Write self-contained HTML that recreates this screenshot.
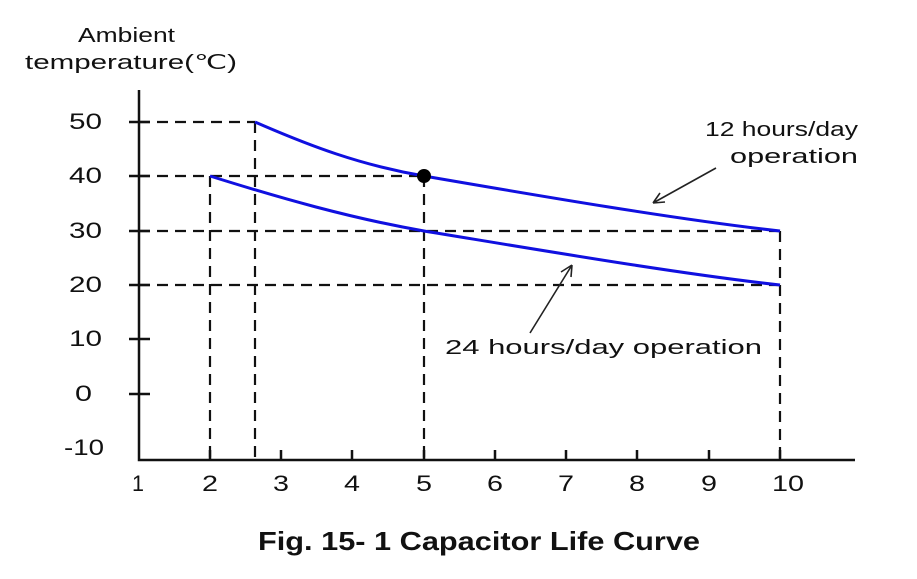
<!DOCTYPE html>
<html><head><meta charset="utf-8"><style>
html,body{margin:0;padding:0;background:#fff;}
svg{display:block;}
text{font-family:"Liberation Sans",Arial,sans-serif;fill:#111;}
</style></head><body>
<svg width="917" height="579" viewBox="0 0 917 579" xmlns="http://www.w3.org/2000/svg">
<g font-size="22">
<text x="69" y="129" textLength="33" lengthAdjust="spacingAndGlyphs">50</text>
<text x="69" y="183" textLength="33" lengthAdjust="spacingAndGlyphs">40</text>
<text x="69" y="238" textLength="33" lengthAdjust="spacingAndGlyphs">30</text>
<text x="69" y="292" textLength="33" lengthAdjust="spacingAndGlyphs">20</text>
<text x="69" y="346" textLength="33" lengthAdjust="spacingAndGlyphs">10</text>
<text x="75" y="401" textLength="17" lengthAdjust="spacingAndGlyphs">0</text>
<text x="64" y="455" textLength="40" lengthAdjust="spacingAndGlyphs">-10</text>
</g>
<g font-size="22">
<text x="132" y="491" textLength="12" lengthAdjust="spacingAndGlyphs">1</text>
<text x="202" y="491" textLength="16" lengthAdjust="spacingAndGlyphs">2</text>
<text x="273" y="491" textLength="16" lengthAdjust="spacingAndGlyphs">3</text>
<text x="344" y="491" textLength="16" lengthAdjust="spacingAndGlyphs">4</text>
<text x="416" y="491" textLength="16" lengthAdjust="spacingAndGlyphs">5</text>
<text x="487" y="491" textLength="16" lengthAdjust="spacingAndGlyphs">6</text>
<text x="558" y="491" textLength="16" lengthAdjust="spacingAndGlyphs">7</text>
<text x="629" y="491" textLength="16" lengthAdjust="spacingAndGlyphs">8</text>
<text x="701" y="491" textLength="16" lengthAdjust="spacingAndGlyphs">9</text>
<text x="772" y="491" textLength="32" lengthAdjust="spacingAndGlyphs">10</text>
</g>
<text x="78" y="42" font-size="20" textLength="97" lengthAdjust="spacingAndGlyphs">Ambient</text>
<text x="25" y="69" font-size="20" textLength="212" lengthAdjust="spacingAndGlyphs">temperature(℃)</text>
<g stroke="#111" stroke-width="2.5" fill="none">
<path d="M139,90 V460 H855"/>
<path d="M129,122H150M129,176H150M129,231H150M129,285H150M129,339H150M129,394H150"/>
<path d="M281,460V450M352,460V450M424,460V450M495,460V450M566,460V450M637,460V450M709,460V450M210,460V450M780,460V450"/>
</g>
<g stroke="#111" stroke-width="2.2" fill="none" stroke-dasharray="11,7">
<path d="M139,122H255"/><path d="M139,176H424"/><path d="M139,231H780"/><path d="M139,285H780"/>
<path d="M255,122V460"/><path d="M210,176V460"/><path d="M424,176V460"/><path d="M780,231V460"/>
</g>
<g stroke="#1010e0" stroke-width="3" fill="none">
<path d="M255,122 C310,146 360,165 424,176 C540,196 680,220 780,231"/>
<path d="M210,176 C280,198 350,218 424,231 C540,250 680,274 780,285"/>
</g>
<circle cx="424" cy="176" r="7" fill="#000"/>
<g stroke="#222" stroke-width="1.6" fill="none">
<path d="M716,168 L653,203 M653,203 L660,193 M653,203 L665,202"/>
<path d="M530,333 L572,265 M572,265 L561,272 M572,265 L571,277"/>
</g>
<text x="705" y="136" font-size="20" textLength="153" lengthAdjust="spacingAndGlyphs">12 hours/day</text>
<text x="730" y="163" font-size="20" textLength="128" lengthAdjust="spacingAndGlyphs">operation</text>
<text x="445" y="354" font-size="20" textLength="317" lengthAdjust="spacingAndGlyphs">24  hours/day operation</text>
<text x="258" y="550" font-size="26" font-weight="bold" textLength="442" lengthAdjust="spacingAndGlyphs">Fig. 15- 1 Capacitor Life Curve</text>
</svg>
</body></html>
